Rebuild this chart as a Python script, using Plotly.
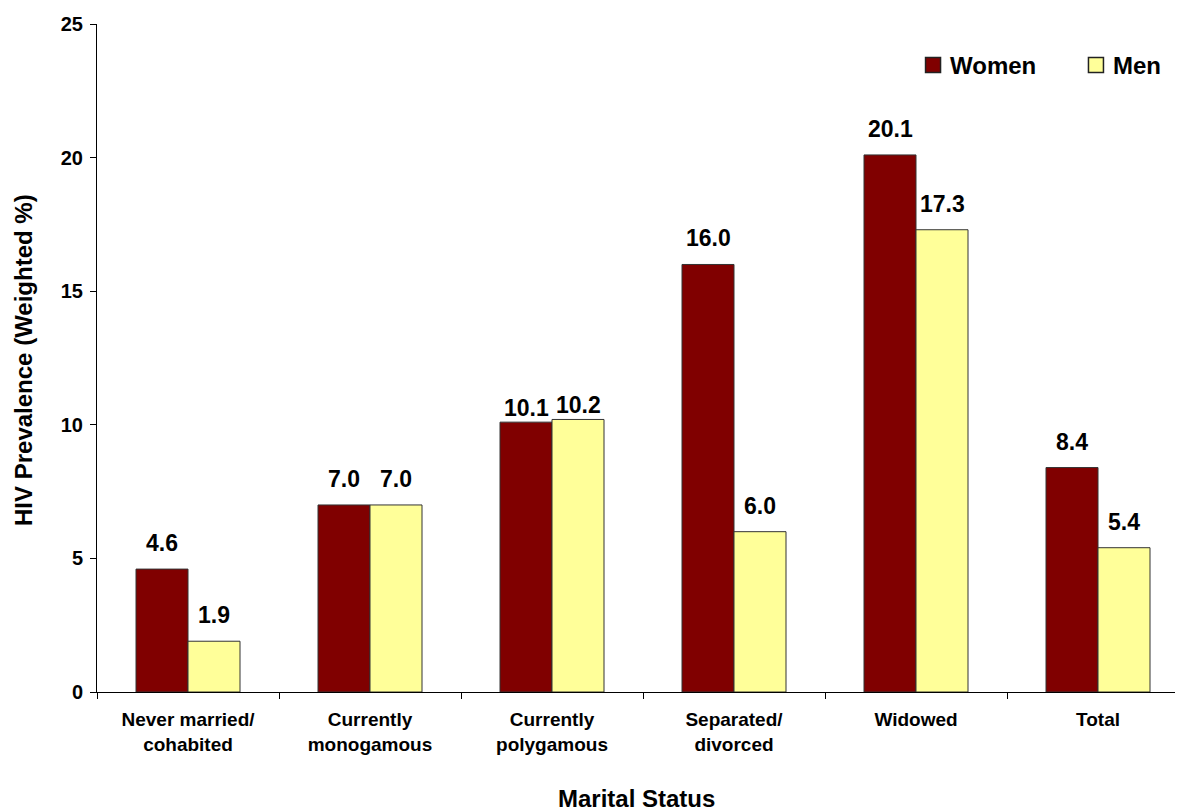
import plotly.graph_objects as go

categories = ["Never married/<br>cohabited", "Currently<br>monogamous", "Currently<br>polygamous",
              "Separated/<br>divorced", "Widowed", "Total"]
women = [4.6, 7.0, 10.1, 16.0, 20.1, 8.4]
men = [1.9, 7.0, 10.2, 6.0, 17.3, 5.4]
series_names = ["Women", "Men"]

FONT = "Liberation Sans, Arial, sans-serif"
COLORS = ["#800000", "#FFFF99"]

fig = go.Figure()
for name, vals, col in zip(series_names, (women, men), COLORS):
    fig.add_trace(go.Bar(name=name, x=categories, y=vals, showlegend=False,
                         marker=dict(color=col, line=dict(color="#333333", width=1))))

label_shift = [11, 11, -1, 11, 11, 11]
for i, c in enumerate(categories):
    for vals, xs in ((women, -26), (men, 26)):
        fig.add_annotation(x=c, y=vals[i], text=f"<b>{vals[i]:.1f}</b>", showarrow=False,
                           xshift=xs, yshift=label_shift[i], yanchor="bottom", xanchor="center",
                           font=dict(family=FONT, size=23, color="black"))

# axis titles
fig.add_annotation(xref="paper", yref="paper", x=-0.0678, y=0.497, textangle=-90,
                   xanchor="center", yanchor="middle",
                   text="<b>HIV Prevalence (Weighted %)</b>", showarrow=False,
                   font=dict(family=FONT, size=24, color="black"))
fig.add_annotation(xref="paper", yref="paper", x=0.4936, y=-0.160,
                   xanchor="center", yanchor="middle",
                   text="<b>Marital Status</b>", showarrow=False,
                   font=dict(family=FONT, size=24, color="black"))

# legend (drawn manually to match swatch size and spacing)
legend_sq_x = [0.7656, 0.9148]
legend_txt_x = [0.7793, 0.9286]
legend_y = 0.9386
for name, col, sx, tx in zip(series_names, COLORS, legend_sq_x, legend_txt_x):
    fig.add_shape(type="rect", xref="paper", yref="paper",
                  xsizemode="pixel", ysizemode="pixel", xanchor=sx, yanchor=legend_y,
                  x0=-7.5, x1=7.5, y0=-7.5, y1=7.5,
                  fillcolor=col, line=dict(color="#222222", width=1.5))
    fig.add_annotation(xref="paper", yref="paper", x=tx, y=legend_y, xanchor="left",
                       yanchor="middle", text=f"<b>{name}</b>", showarrow=False,
                       font=dict(family=FONT, size=24, color="black"))

fig.update_layout(
    width=1183, height=810,
    margin=dict(l=89, r=2, t=16, b=126),
    plot_bgcolor="white", paper_bgcolor="white",
    barmode="group", bargap=0.4286, bargroupgap=0,
    font=dict(family=FONT, color="black"),
    showlegend=False,
)
fig.update_xaxes(range=[-0.5, 5.5], showline=True, linecolor="black", linewidth=1,
                 ticks="outside", tickson="boundaries", ticklen=6, tickcolor="black",
                 automargin=False, ticklabelstandoff=10,
                 tickfont=dict(family=FONT, size=19, color="black"),
                 tickprefix="<b>", ticksuffix="</b>")
fig.update_yaxes(range=[0, 25], dtick=5, showline=True, linecolor="black", linewidth=1,
                 ticks="outside", ticklen=6, tickcolor="black", showgrid=False, zeroline=False,
                 automargin=False, ticklabelstandoff=3,
                 tickfont=dict(family=FONT, size=20, color="black"),
                 tickprefix="<b>", ticksuffix="</b>")

fig.write_html("out.html")
